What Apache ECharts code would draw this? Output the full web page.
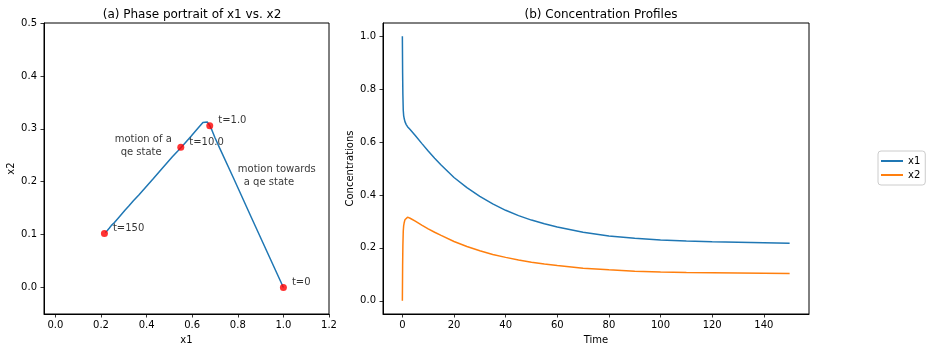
<!DOCTYPE html>
<html>
<head>
<meta charset="utf-8">
<script src="https://cdn.jsdelivr.net/npm/echarts@6/dist/echarts.min.js"></script>
<style>
html,body{margin:0;padding:0;background:#fff;}
#chart{width:933px;height:352px;}
</style>
</head>
<body>
<div id="chart"></div>
<script>
// ---- data ----
const timeValues = [0, 0.1, 0.2, 0.35, 0.5, 0.75, 1, 1.5, 2, 3, 5, 7.5, 10, 12.5, 15, 20, 25, 30, 35, 40, 45, 50, 55, 60, 70, 80, 90, 100, 110, 120, 130, 140, 150];
const x1Values = [1.0, 0.86, 0.78, 0.72, 0.70, 0.687, 0.677, 0.666, 0.658, 0.647, 0.625, 0.595, 0.566, 0.539, 0.513, 0.466, 0.428, 0.395, 0.366, 0.342, 0.322, 0.305, 0.291, 0.279, 0.259, 0.245, 0.236, 0.230, 0.226, 0.223, 0.221, 0.219, 0.217];
const x2Values = [0.0, 0.132, 0.208, 0.264, 0.283, 0.297, 0.306, 0.313, 0.316, 0.312, 0.301, 0.286, 0.272, 0.259, 0.247, 0.224, 0.205, 0.189, 0.175, 0.164, 0.154, 0.146, 0.139, 0.133, 0.123, 0.117, 0.112, 0.109, 0.107, 0.106, 0.105, 0.104, 0.103];

const markerLabels = ['t=0', 't=1.0', 't=10.0', 't=150'];
const markerX1 = [1.0, 0.677, 0.55, 0.215];
const markerX2 = [0.0, 0.306, 0.265, 0.102];

const noteTexts = ['motion of a', 'qe state', 'motion towards', 'a qe state'];
const noteX1 = [0.26, 0.80];
const noteX2 = [0.268, 0.211];

const leftXTicks = [0.0, 0.2, 0.4, 0.6, 0.8, 1.0, 1.2];
const leftYTicks = [0.0, 0.1, 0.2, 0.3, 0.4, 0.5];
const rightXTicks = [0, 20, 40, 60, 80, 100, 120, 140];
const rightYTicks = [0.0, 0.2, 0.4, 0.6, 0.8, 1.0];

// ---- chart ----
const FONT = 'DejaVu Sans';
const chart = echarts.init(document.getElementById('chart'), null, {renderer: 'canvas'});

function makeAxis(ticks, fmt, margin) {
  return {
    type: 'value',
    splitLine: {show: false},
    axisLine: {show: true, onZero: false, lineStyle: {color: '#000', width: 1}},
    axisTick: {show: true, customValues: ticks, length: 3.5, lineStyle: {color: '#000', width: 0.8}},
    axisLabel: {show: true, customValues: ticks, formatter: fmt, margin: margin,
                fontFamily: FONT, fontSize: 10, color: '#000'},
    nameTextStyle: {fontFamily: FONT, fontSize: 10, color: '#000'},
    nameLocation: 'middle'
  };
}
const fmt1 = v => Number(v).toFixed(1);
const fmt0 = v => String(Math.round(v));

const portraitData = x1Values.map((v, i) => [v, x2Values[i]]);
const x1Series = timeValues.map((t, i) => [t, x1Values[i]]);
const x2Series = timeValues.map((t, i) => [t, x2Values[i]]);
const markerData = markerX1.map((v, i) => [v, markerX2[i], markerLabels[i]]);

const option = {
  animation: false,
  backgroundColor: '#fff',
  textStyle: {fontFamily: FONT},
  title: [
    {text: '(a) Phase portrait of x1 vs. x2', left: 187, top: 4, textAlign: 'center',
     textStyle: {fontFamily: FONT, fontSize: 12, fontWeight: 'normal', color: '#000'}},
    {text: '(b) Concentration Profiles', left: 596, top: 4, textAlign: 'center',
     textStyle: {fontFamily: FONT, fontSize: 12, fontWeight: 'normal', color: '#000'}}
  ],
  grid: [
    {left: 44, top: 23, width: 285, height: 291, show: true, borderColor: '#000', borderWidth: 1, backgroundColor: 'transparent'},
    {left: 383, top: 23, width: 426, height: 291, show: true, borderColor: '#000', borderWidth: 1, backgroundColor: 'transparent'}
  ],
  xAxis: [
    Object.assign(makeAxis(leftXTicks, fmt1, 6), {gridIndex: 0, min: -0.05, max: 1.2, name: 'x1', nameGap: 21}),
    Object.assign(makeAxis(rightXTicks, fmt0, 6), {gridIndex: 1, min: -7.5, max: 157.5, name: 'Time', nameGap: 21})
  ],
  yAxis: [
    Object.assign(makeAxis(leftYTicks, fmt1, 7), {gridIndex: 0, min: -0.05, max: 0.5, name: 'x2', nameGap: 28}),
    Object.assign(makeAxis(rightYTicks, fmt1, 7), {gridIndex: 1, min: -0.05, max: 1.05, name: 'Concentrations', nameGap: 28})
  ],
  legend: {
    data: [
      {name: 'x1', icon: 'rect'},
      {name: 'x2', icon: 'rect'}
    ],
    orient: 'vertical',
    left: 878, top: 151,
    itemWidth: 22, itemHeight: 2, itemGap: 2,
    padding: [4, 5, 4, 3],
    borderColor: '#ccc', borderWidth: 1, borderRadius: 3,
    backgroundColor: '#fff',
    textStyle: {fontFamily: FONT, fontSize: 10, color: '#000', lineHeight: 12}
  },
  series: [
    {
      name: 'portrait', type: 'line', xAxisIndex: 0, yAxisIndex: 0,
      data: portraitData, showSymbol: false, symbol: 'none',
      lineStyle: {color: '#1f77b4', width: 1.5}, z: 2
    },
    {
      name: 'markers', type: 'scatter', xAxisIndex: 0, yAxisIndex: 0,
      data: markerData, symbol: 'circle', symbolSize: 7,
      itemStyle: {color: '#ff0000'}, z: 5,
      label: {show: true, position: 'right', distance: 5, offset: [0, -5],
        formatter: p => p.data[2], fontFamily: FONT, fontSize: 10, color: '#000'}
    },
    {
      name: 'notes', type: 'scatter', xAxisIndex: 0, yAxisIndex: 0,
      data: noteX1.map((v, i) => [v, noteX2[i], i]), symbol: 'circle', symbolSize: 0, z: 6,
      label: {show: true, position: 'right', distance: 0,
        formatter: p => '{a|' + noteTexts[p.data[2] * 2] + '}\n{b|' + noteTexts[p.data[2] * 2 + 1] + '}',
        rich: {
          a: {fontFamily: FONT, fontSize: 10, color: '#000', lineHeight: 12.4},
          b: {fontFamily: FONT, fontSize: 10, color: '#000', lineHeight: 12.4, padding: [0, 0, 0, 6]}
        }}
    },
    {
      name: 'x1', type: 'line', xAxisIndex: 1, yAxisIndex: 1,
      data: x1Series, showSymbol: false, symbol: 'none',
      itemStyle: {color: '#1f77b4'}, lineStyle: {color: '#1f77b4', width: 1.5}
    },
    {
      name: 'x2', type: 'line', xAxisIndex: 1, yAxisIndex: 1,
      data: x2Series, showSymbol: false, symbol: 'none',
      itemStyle: {color: '#ff7f0e'}, lineStyle: {color: '#ff7f0e', width: 1.5}
    }
  ]
};
chart.setOption(option);
</script>
</body>
</html>
